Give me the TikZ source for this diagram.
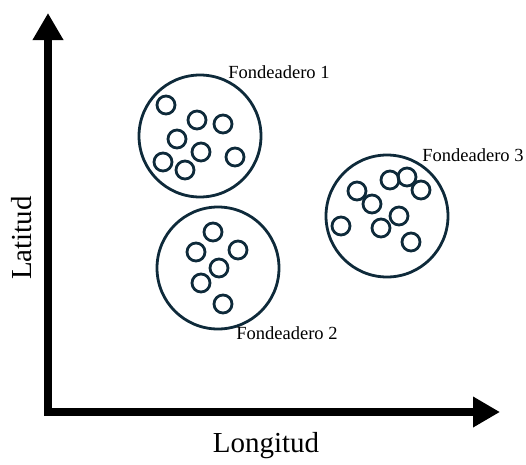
\documentclass[tikz,border=0pt]{standalone}
\usepackage{fontspec}
\setmainfont{Liberation Serif}
\usetikzlibrary{arrows.meta}
\definecolor{anchorline}{HTML}{0E2A3A}
\tikzset{
  area/.style={circle, draw=anchorline, line width=2.8pt, minimum size=122pt, inner sep=0pt},
  ship/.style={circle, draw=anchorline, line width=2.8pt, minimum size=18pt, inner sep=0pt},
  areaname/.style={font=\fontsize{18.5}{20}\selectfont, inner sep=0pt},
  axisname/.style={font=\fontsize{29}{32}\selectfont, inner sep=0pt},
  axis/.style={line width=8.5pt, line join=miter,
    {Triangle[width=29pt,length=27pt]}-{Triangle[width=29pt,length=27pt]}}
}
\begin{document}
\begin{tikzpicture}[x=1pt, y=-1pt]
  \useasboundingbox (0,0) rectangle (526,464);

  % axes
  \coordinate (ytip) at (48,13);
  \coordinate (origin) at (48,412);
  \coordinate (xtip) at (500,412);
  \draw[axis] (ytip) -- (origin) -- (xtip);
  \node[axisname, rotate=90] (lat) at (22,238) {Latitud};
  \node[axisname] (lon) at (266,446) {Longitud};

  % anchorage 1
  \node[area] (f1) at (200,136) {};
  \node[areaname] (l1) at (279,72) {Fondeadero 1};
  \foreach \p [count=\i] in {(166,105),(197,120),(223,124),(177,139),(201,152),(163,162),(185,170),(235,157)}
    \node[ship] (s1-\i) at \p {};

  % anchorage 2
  \node[area] (f2) at (218,268) {};
  \node[areaname] (l2) at (287,333) {Fondeadero 2};
  \foreach \p [count=\i] in {(213,232),(196,252),(238,250),(219,268),(201,283),(223,304)}
    \node[ship] (s2-\i) at \p {};

  % anchorage 3
  \node[area] (f3) at (387,216) {};
  \node[areaname] (l3) at (473,155) {Fondeadero 3};
  \foreach \p [count=\i] in {(390,180),(407,177),(421,190),(357,191),(372,204),(399,216),(341,226),(381,228),(411,242)}
    \node[ship] (s3-\i) at \p {};
\end{tikzpicture}
\end{document}
